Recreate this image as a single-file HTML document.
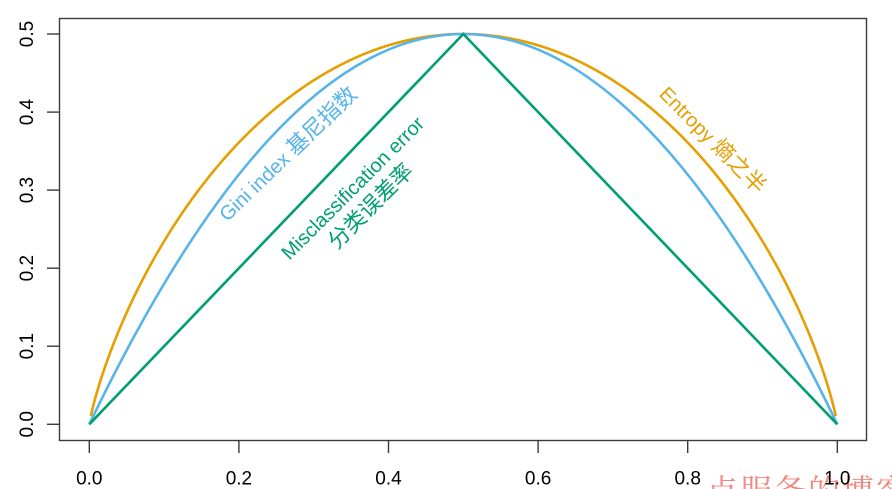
<!DOCTYPE html>
<html>
<head>
<meta charset="utf-8">
<style>
html,body{margin:0;padding:0;background:#fff;}
svg{display:block;}
</style>
</head>
<body>
<svg id="chart" width="892" height="489" viewBox="0 0 892 489" xmlns="http://www.w3.org/2000/svg">
  <rect width="892" height="489" fill="#fff"/>
  <!-- watermark -->
  <text x="706" y="502" font-family="'Noto Serif CJK SC', serif" font-size="32" fill="#ef8883" letter-spacing="2">点服务的博客</text>
  <!-- box -->
  <rect x="59.5" y="18.5" width="807" height="422" fill="none" stroke="#3a3a3a" stroke-width="1.4"/>
  <!-- y ticks -->
  <g stroke="#3a3a3a" stroke-width="1.4">
    <line x1="47" y1="424.3" x2="59.5" y2="424.3"/>
    <line x1="47" y1="346.2" x2="59.5" y2="346.2"/>
    <line x1="47" y1="268.2" x2="59.5" y2="268.2"/>
    <line x1="47" y1="190.1" x2="59.5" y2="190.1"/>
    <line x1="47" y1="112.1" x2="59.5" y2="112.1"/>
    <line x1="47" y1="34" x2="59.5" y2="34"/>
    <line x1="89.3" y1="440.5" x2="89.3" y2="453"/>
    <line x1="238.9" y1="440.5" x2="238.9" y2="453"/>
    <line x1="388.5" y1="440.5" x2="388.5" y2="453"/>
    <line x1="538.1" y1="440.5" x2="538.1" y2="453"/>
    <line x1="687.7" y1="440.5" x2="687.7" y2="453"/>
    <line x1="837.3" y1="440.5" x2="837.3" y2="453"/>
  </g>
  <g font-family="'Liberation Sans', sans-serif" font-size="19" fill="#000" text-anchor="middle">
    <text x="89.3" y="484.5">0.0</text>
    <text x="238.9" y="484.5">0.2</text>
    <text x="388.5" y="484.5">0.4</text>
    <text x="538.1" y="484.5">0.6</text>
    <text x="687.7" y="484.5">0.8</text>
    <text x="837.3" y="484.5">1.0</text>
    <text transform="translate(33,424.3) rotate(-90)">0.0</text>
    <text transform="translate(33,346.2) rotate(-90)">0.1</text>
    <text transform="translate(33,268.2) rotate(-90)">0.2</text>
    <text transform="translate(33,190.1) rotate(-90)">0.3</text>
    <text transform="translate(33,112.1) rotate(-90)">0.4</text>
    <text transform="translate(33,34) rotate(-90)">0.5</text>
  </g>
  <!-- curves -->
  <path id="entropy" d="" fill="none" stroke="#E69F00" stroke-width="2.6" stroke-linejoin="round"/>
  <path id="gini" d="M89.3,424.3 Q463.3,-356.3 837.3,424.3" fill="none" stroke="#56B4E9" stroke-width="2.6"/>
  <path d="M89.3,424.3 L463.3,34 L837.3,424.3" fill="none" stroke="#009E73" stroke-width="2.6" stroke-linejoin="miter"/>
  <!-- annotations -->
  <g transform="translate(288,154) rotate(-44)" text-anchor="middle" fill="#56B4E9">
    <text y="7"><tspan font-family="'Liberation Sans', sans-serif" font-size="20">Gini index </tspan><tspan font-family="'Noto Sans CJK SC', sans-serif" font-size="22">基尼指数</tspan></text>
  </g>
  <g transform="translate(352.5,188) rotate(-45)" text-anchor="middle" fill="#009E73">
    <text y="7" font-family="'Liberation Sans', sans-serif" font-size="20">Misclassification error</text>
    <text y="33" font-family="'Noto Sans CJK SC', sans-serif" font-size="22">分类误差率</text>
  </g>
  <g transform="translate(712.5,140) rotate(45.3)" text-anchor="middle" fill="#E69F00">
    <text y="7"><tspan font-family="'Liberation Sans', sans-serif" font-size="20">Entropy </tspan><tspan font-family="'Noto Sans CJK SC', sans-serif" font-size="22">熵之半</tspan></text>
  </g>
</svg>
<script>
(function(){
  function X(p){return 89.3+p*748;}
  function Y(v){return 424.3-v*780.6;}
  var d="";
  var n=1000;
  for(var i=0;i<=n;i++){
    var p=0.002+(0.996)*i/n;
    var h=-(p*Math.log2(p)+(1-p)*Math.log2(1-p))/2;
    d+=(i===0?"M":"L")+X(p).toFixed(2)+","+Y(h).toFixed(2);
  }
  document.getElementById("entropy").setAttribute("d",d);
})();
</script>
</body>
</html>
